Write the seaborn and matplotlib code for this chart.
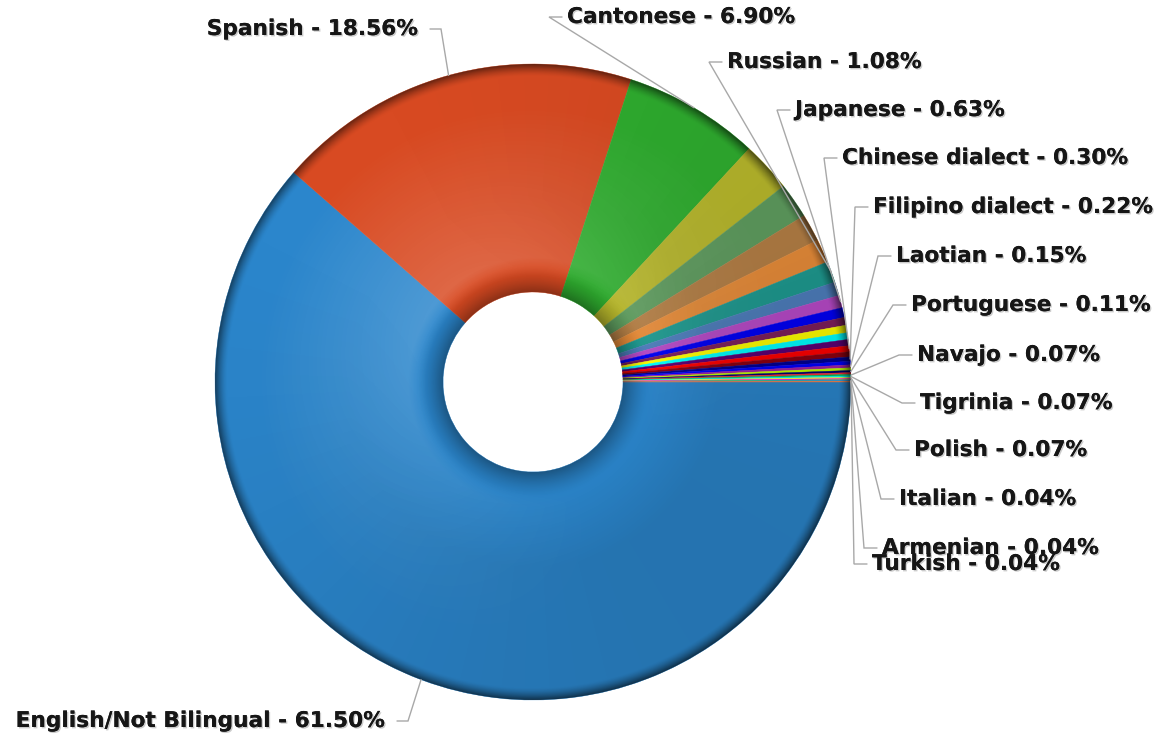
import numpy as np
import seaborn as sns
import matplotlib
matplotlib.use("Agg")
import matplotlib.pyplot as plt
import matplotlib.patheffects as pe
from matplotlib.patches import Wedge

# share of students by home language (%), clockwise from 3 o'clock
languages = ["English/Not Bilingual", "Spanish", "Cantonese", None, None, None, None,
             "Russian", None, "Japanese", None, None, None, None, None,
             "Chinese dialect", None, "Filipino dialect", None, "Laotian", None,
             "Portuguese", None, "Navajo", "Tigrinia", "Polish", None,
             "Italian", "Armenian", "Turkish"]
shares = [61.50, 18.56, 6.90, 2.55, 1.80, 1.40, 1.20,
          1.08, 0.70, 0.63, 0.50, 0.40, 0.38, 0.34, 0.32,
          0.30, 0.26, 0.22, 0.18, 0.15, 0.13,
          0.11, 0.09, 0.07, 0.07, 0.07, 0.05,
          0.04, 0.04, 0.04]
colors = ["#2b86cc", "#d84a22", "#2fad2f", "#b8b82c", "#5f9d5f", "#b58046", "#e88d3a",
          "#1f9b91", "#4e7ebd", "#b84ac9", "#0000f5", "#7e1f5c", "#ffff00", "#00ffff", "#5c0074",
          "#ff0000", "#8c0010", "#000094", "#0000ff", "#a420a4", "#c0ff00",
          "#000074", "#ff3030", "#00c060", "#00ffff", "#ffff40", "#ff00ff",
          "#40ff40", "#2080ff", "#ff8040"]

# label layout in pixels (x, y from top, horizontal alignment)
label_pos = {
    "English/Not Bilingual": (385, 721, "right"),
    "Spanish": (418, 29, "right"),
    "Cantonese": (567, 17, "left"),
    "Russian": (727, 62, "left"),
    "Japanese": (795, 110, "left"),
    "Chinese dialect": (842, 158, "left"),
    "Filipino dialect": (873, 207, "left"),
    "Laotian": (896, 256, "left"),
    "Portuguese": (911, 305, "left"),
    "Navajo": (917, 355, "left"),
    "Tigrinia": (920, 403, "left"),
    "Polish": (914, 450, "left"),
    "Italian": (899, 499, "left"),
    "Armenian": (882, 548, "left"),
    "Turkish": (872, 564, "left"),
}

W, H = 1162, 740
cx, cy = 533, H - 382
R, r_in = 318, 90

sns.set_theme(style="white")
plt.rcParams['font.family'] = ['DejaVu Sans']

fig = plt.figure(figsize=(W / 100, H / 100), dpi=100)
ax = fig.add_axes([0, 0, 1, 1])

wedges, _ = ax.pie(shares, colors=colors, startangle=0, counterclock=False,
                   radius=R, center=(cx, cy),
                   wedgeprops=dict(width=R - r_in, linewidth=0.3))
for w in wedges:
    w.set_edgecolor(w.get_facecolor())

# 3D-ish shading on the ring
n = 800
u = np.linspace(-1, 1, n)
U, V = np.meshgrid(u, u)
rr = np.sqrt(U ** 2 + V ** 2)
ri = r_in / R
cosd = (-U * 0.7 + V * 0.7) / np.maximum(rr, 1e-6)
dark = 0.5 * np.clip((rr - 0.962) / 0.038, 0, 1) ** 1.5
dark += 0.36 * np.clip(1 - (rr - ri) / 0.085, 0, 1) ** 1.5
dark += 0.14 * (0.5 - 0.5 * cosd) * np.clip((rr - ri) / 0.3, 0, 1)
dark = np.clip(dark, 0, 0.7)
light = 0.17 * np.clip(1 - (rr - 0.38) / 0.5, 0, 1) * (0.5 + 0.5 * cosd)
light *= np.clip((rr - ri - 0.05) / 0.06, 0, 1)

ring = Wedge((cx, cy), R, 0, 360, width=R - r_in, facecolor="none", edgecolor="none")
ax.add_patch(ring)
ext = [cx - R, cx + R, cy - R, cy + R]
img_d = np.zeros((n, n, 4))
img_d[..., 3] = dark
img_l = np.ones((n, n, 4))
img_l[..., 3] = light
im1 = ax.imshow(img_l, extent=ext, origin="lower", interpolation="bilinear", zorder=3)
im2 = ax.imshow(img_d, extent=ext, origin="lower", interpolation="bilinear", zorder=3)
im1.set_clip_path(ring)
im2.set_clip_path(ring)

# labels with leader lines
for w, name, val in zip(wedges, languages, shares):
    if name is None:
        continue
    mid = np.deg2rad((w.theta1 + w.theta2) / 2)
    ax_x, ax_y = cx + R * np.cos(mid), cy + R * np.sin(mid)
    tx, ty, ha = label_pos[name]
    ty = H - ty
    if ha == "right":
        stub0, elbow = tx + 12, tx + 23
    else:
        stub0, elbow = tx - 5, tx - 18
    ax.plot([ax_x, elbow, stub0], [ax_y, ty, ty], color="#a8a8a8", lw=1.0, zorder=4,
            solid_joinstyle="miter")
    ax.text(tx, ty, f"{name} - {val:.2f}%", ha=ha, va="center", fontsize=15.6,
            fontweight="bold", color="#161616", zorder=5,
            path_effects=[pe.withSimplePatchShadow(offset=(1, -1), shadow_rgbFace="#999999", alpha=0.5),
                          pe.Normal()])

ax.set_xlim(0, W)
ax.set_ylim(0, H)
ax.set_aspect("auto")
ax.axis("off")
fig.savefig("out.png", dpi=100, facecolor="white")
